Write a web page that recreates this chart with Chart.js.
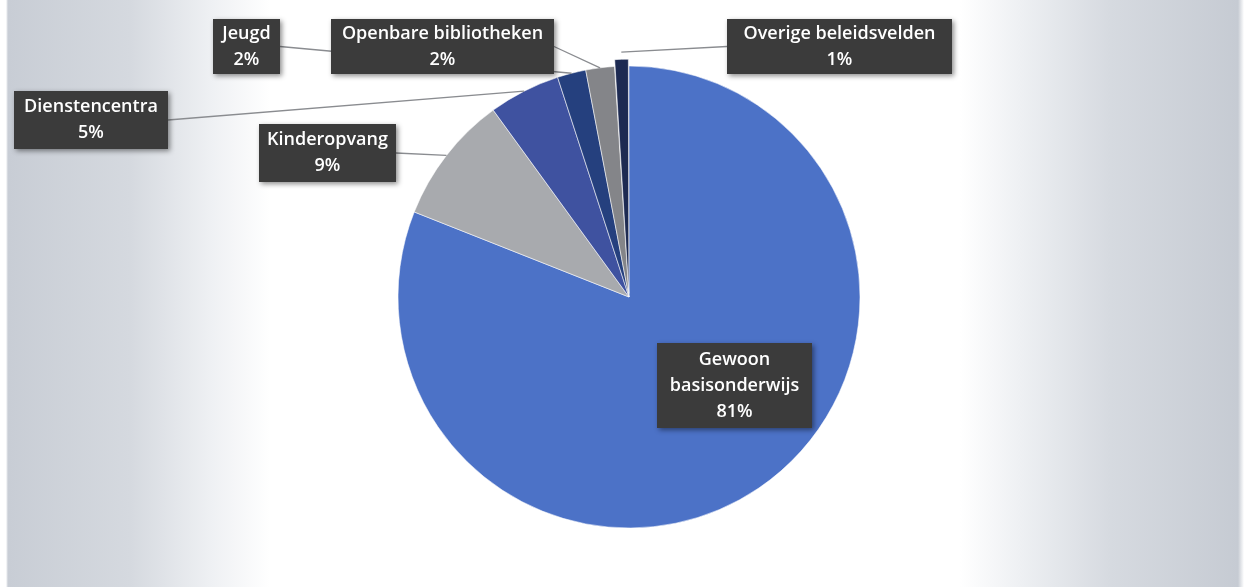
<!DOCTYPE html>
<html>
<head>
<meta charset="utf-8">
<script src="https://cdn.jsdelivr.net/npm/chart.js@4"></script>
<style>
  html, body { margin: 0; padding: 0; }
  body {
    width: 1252px; height: 587px; overflow: hidden;
    background: linear-gradient(to right,
      #ffffff 0px, #ffffff 6px, #c8cdd5 8px, #d5d9df 130px, #eef0f3 210px, #ffffff 270px,
      #ffffff 960px, #eef0f3 1020px, #d6dae0 1110px, #c6cbd3 1238px, #ffffff 1244px, #ffffff 1252px);
  }
  #wrap { position: relative; width: 1252px; height: 587px; }
</style>
</head>
<body>
<div id="wrap"><canvas id="c"></canvas></div>
<script>
// ---- data ----
const categories = ["Gewoon basisonderwijs", "Kinderopvang", "Dienstencentra", "Jeugd", "Openbare bibliotheken", "Overige beleidsvelden"];
const values = [81, 9, 5, 2, 2, 1];
const labelLines = [["Gewoon", "basisonderwijs", "81%"], ["Kinderopvang", "9%"], ["Dienstencentra", "5%"], ["Jeugd", "2%"], ["Openbare bibliotheken", "2%"], ["Overige beleidsvelden", "1%"]];

// ---- styles ----
const colors = ["#4c72c7", "#a8aaae", "#3f52a0", "#25407e", "#848589", "#1d2a52"];
const offsets = [0, 0, 0, 0, 0, 14];
// label box centers / sizes and leader-line anchor (side of box)
const labelBoxes = [
  { cx: 734.5, cy: 385.5, w: 155, h: 85, side: null },
  { cx: 327.5, cy: 153, w: 137, h: 58, side: "right" },
  { cx: 91, cy: 120, w: 154, h: 58, side: "right" },
  { cx: 246.5, cy: 46.5, w: 67, h: 55, side: "right" },
  { cx: 442.5, cy: 46.5, w: 223, h: 55, side: "right" },
  { cx: 839.5, cy: 46.5, w: 225, h: 55, side: "left" }
];

const labelPlugin = {
  id: 'boxLabels',
  afterDatasetsDraw(chart) {
    const ctx = chart.ctx;
    const meta = chart.getDatasetMeta(0);
    ctx.save();
    // leader lines first
    meta.data.forEach((arc, i) => {
      const b = labelBoxes[i];
      if (!b.side) return;
      const p = arc.getProps(['x', 'y', 'startAngle', 'endAngle', 'outerRadius'], true);
      const mid = (p.startAngle + p.endAngle) / 2;
      const off = arc.options.offset || 0;
      const r = p.outerRadius + off;
      const ex = p.x + Math.cos(mid) * r;
      const ey = p.y + Math.sin(mid) * r;
      const sx = b.side === "right" ? b.cx + b.w / 2 : b.cx - b.w / 2;
      const sy = b.cy;
      ctx.beginPath();
      ctx.moveTo(sx, sy);
      ctx.lineTo(ex, ey);
      ctx.strokeStyle = "#8a8c90";
      ctx.lineWidth = 1.3;
      ctx.stroke();
    });
    // boxes
    meta.data.forEach((arc, i) => {
      const b = labelBoxes[i];
      ctx.save();
      ctx.shadowColor = "rgba(0,0,0,0.45)";
      ctx.shadowBlur = 5;
      ctx.shadowOffsetX = 2;
      ctx.shadowOffsetY = 2;
      ctx.fillStyle = "#3b3b3b";
      ctx.fillRect(b.cx - b.w / 2, b.cy - b.h / 2, b.w, b.h);
      ctx.restore();
      const lines = labelLines[i];
      const lh = 26;
      ctx.fillStyle = "#ffffff";
      ctx.font = "600 18px 'Open Sans'";
      ctx.textAlign = "center";
      ctx.textBaseline = "middle";
      const y0 = b.cy - (lines.length - 1) * lh / 2;
      lines.forEach((t, k) => ctx.fillText(t, b.cx, y0 + k * lh));
    });
    ctx.restore();
  }
};

new Chart(document.getElementById('c'), {
  type: 'pie',
  data: {
    labels: categories,
    datasets: [{
      data: values,
      backgroundColor: colors,
      borderColor: "rgba(255,255,255,0.55)",
      borderWidth: 1,
      offset: offsets,
      radius: 231
    }]
  },
  options: {
    responsive: true,
    maintainAspectRatio: false,
    animation: false,
    layout: { padding: { left: 6, right: 0, top: 7, bottom: 0 } },
    plugins: { legend: { display: false }, tooltip: { enabled: false } },
    events: []
  },
  plugins: [labelPlugin]
});
</script>
</body>
</html>
